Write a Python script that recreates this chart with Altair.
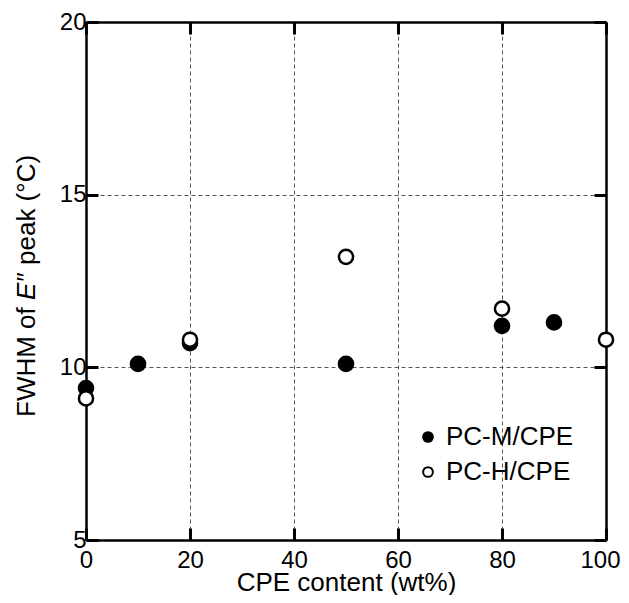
import altair as alt
import pandas as pd

cpe_m = [0, 10, 20, 50, 80, 90]
fwhm_m = [9.4, 10.1, 10.7, 10.1, 11.2, 11.3]
cpe_h = [0, 20, 50, 80, 100]
fwhm_h = [9.1, 10.8, 13.2, 11.7, 10.8]
series = ["PC-M/CPE", "PC-H/CPE"]
x_ticks = [0, 20, 40, 60, 80, 100]
y_ticks = [5, 10, 15, 20]
x_title = "CPE content (wt%)"
y_title_parts = ["FWHM of", "E\u2033", "peak (\u00b0C)"]

df = pd.DataFrame({
    "cpe": cpe_m + cpe_h,
    "fwhm": fwhm_m + fwhm_h,
    "series": [series[0]] * len(cpe_m) + [series[1]] * len(cpe_h),
})

FONT = "Liberation Sans"
W, H = 520, 518

xscale = alt.Scale(domain=[0, 100], nice=False)
yscale = alt.Scale(domain=[5, 20], nice=False)

common = dict(
    domainColor="black", domainWidth=2.5,
    tickColor="black", tickWidth=3, tickSize={"expr": "-12"},
    labelFont=FONT, labelFontSize=24, labelColor="black", labelFlush=False,
    gridColor="#555555", gridDash=[4, 3], gridWidth=1,
)

x_bottom = alt.Axis(
    orient="bottom", values=x_ticks, title=x_title, grid=True,
    gridOpacity={"condition": {"test": "datum.value <= 0 || datum.value >= 100", "value": 0}, "value": 1},
    labelAlign={"condition": {"test": "datum.value >= 100", "value": "right"}, "value": "center"},
    labelOffset={"condition": {"test": "datum.value >= 100", "value": 14}, "value": 0},
    labelPadding=20, titleFont=FONT, titleFontSize=26, titleFontWeight="normal",
    titleColor="black", titleBaseline="alphabetic", titleY=50, **common,
)
y_left = alt.Axis(
    orient="left", values=y_ticks, title="", grid=True,
    gridOpacity={"condition": {"test": "datum.value <= 5 || datum.value >= 20", "value": 0}, "value": 1},
    labelPadding=12, **common,
)
x_top = alt.Axis(orient="top", values=x_ticks, title="", labels=False, grid=False, **common)
y_right = alt.Axis(orient="right", values=y_ticks, title="", labels=False, grid=False, **common)

points = alt.Chart(df).mark_point(
    shape="circle", filled=True, stroke="black", strokeWidth=2.5, size=200, opacity=1
).encode(
    x=alt.X("cpe:Q", scale=xscale, axis=x_bottom),
    y=alt.Y("fwhm:Q", scale=yscale, axis=y_left),
    fill=alt.Fill(
        "series:N",
        scale=alt.Scale(domain=series, range=["black", "white"]),
        legend=alt.Legend(
            orient="none", legendX=329, legendY=402, title=None, padding=0,
            labelFont=FONT, labelFontSize=26, labelColor="black", labelOffset=5,
            symbolType="circle", symbolSize=95, symbolStrokeWidth=2,
            symbolStrokeColor="black", rowPadding=9,
        ),
    ),
)

frame = alt.Chart(df).mark_point(opacity=0).encode(
    x=alt.X("cpe:Q", scale=xscale, axis=x_top),
    y=alt.Y("fwhm:Q", scale=yscale, axis=y_right),
)


def title_piece(txt, ypix, italic=False):
    return alt.Chart(pd.DataFrame({"t": [txt]})).mark_text(
        angle=270, align="left", baseline="middle", font=FONT, fontSize=26,
        color="black", fontStyle="italic" if italic else "normal",
    ).encode(x=alt.value(-59), y=alt.value(ypix), text="t:N")


t1 = title_piece(y_title_parts[0], 395)
t2 = title_piece(y_title_parts[1], 278, italic=True)
t3 = title_piece(y_title_parts[2], 243)

chart = alt.layer(frame, points, t1, t2, t3).resolve_axis(
    x="independent", y="independent"
).properties(
    width=W, height=H,
    autosize=alt.AutoSizeParams(type="none"),
    padding={"left": 78, "top": 14, "right": 15, "bottom": 55},
).configure_view(stroke=None)

chart.save("out.html", embed_options={"renderer": "svg", "actions": False})
